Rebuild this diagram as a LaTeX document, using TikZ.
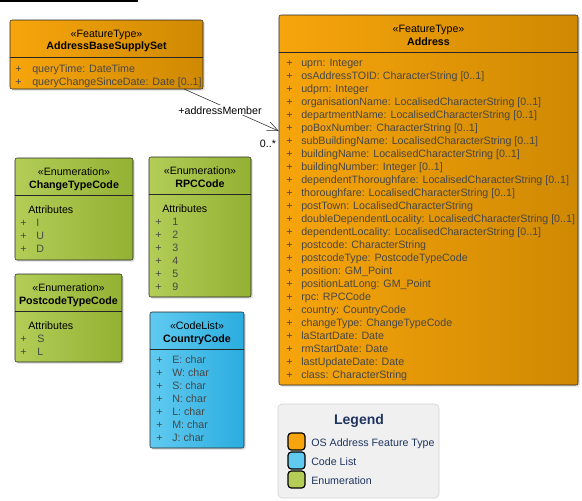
\documentclass[tikz,border=0pt]{standalone}
\usepackage{fontspec}
\setmainfont{Liberation Sans}
\usetikzlibrary{fit,shadows,arrows.meta}
\definecolor{ftorange}{HTML}{F7A50C}
\definecolor{ftorangedk}{HTML}{CF8902}
\definecolor{enumgreen}{HTML}{B3CD57}
\definecolor{enumgreendk}{HTML}{93B133}
\definecolor{clblue}{HTML}{60CAF0}
\definecolor{clbluedk}{HTML}{2AADDF}
\definecolor{attrgray}{HTML}{474747}
\definecolor{legendnavy}{HTML}{1F3560}
\definecolor{legendbg}{HTML}{F0F0F0}
\begin{document}
\begin{tikzpicture}[
      x=0.75pt, y=-0.75pt,
      font=\fontsize{8}{9.75}\selectfont,
      classbox/.style={draw=black!85, rounded corners=1.5pt, inner sep=0pt,
        drop shadow={shadow xshift=1.2pt, shadow yshift=-1.2pt, opacity=0.3}},
      feature/.style={classbox, left color=ftorange, right color=ftorangedk},
      enum/.style={classbox, left color=enumgreen, right color=enumgreendk},
      codelist/.style={classbox, left color=clblue, right color=clbluedk},
      stereo/.style={inner sep=0pt, text height=7.5pt, text depth=0.5pt},
      cname/.style={stereo, font=\fontsize{8}{9.75}\selectfont\bfseries},
      attr/.style={stereo, anchor=west, text=attrgray},
      sep/.style={draw=black!85},
      assoc/.style={draw=black!85, -{Straight Barb[length=8pt,width=7pt]}},
      legendbox/.style={draw=black!18, fill=legendbg, rounded corners=3pt, inner sep=0pt},
      swatch/.style={draw=black, line width=0.9pt, rounded corners=2.5pt,
        minimum size=12.75pt, inner sep=0pt},
      legendtxt/.style={stereo, anchor=west, text=legendnavy}
    ]
    \useasboundingbox (0,0) rectangle (582,500);
    \draw[line width=1.2pt] (0,1) -- (138,1);

    % feature types
    \node[feature, fit={(10,20) (203,89)}] (abss) {};
    \node[feature, fit={(279,15) (578,385)}] (addr) {};
    \draw[sep] (abss.west |- 0,57) -- (abss.east |- 0,57);
    \draw[sep] (addr.west |- 0,52) -- (addr.east |- 0,52);
    \path (106.5,33) node[stereo] (abss-st) {«FeatureType»}
      (106.5,45) node[cname] (abss-nm) {AddressBaseSupplySet}
      (428.5,28) node[stereo] (addr-st) {«FeatureType»}
      (428.5,41) node[cname] (addr-nm) {Address};
    \foreach \a [count=\i] in {queryTime: DateTime, queryChangeSinceDate: Date [0..1]}
      \path (15,55+13*\i) node[attr] (abss-p\i) {+}
        (32,55+13*\i) node[attr] (abss-a\i) {\a};
    \foreach \a [count=\i] in {uprn: Integer, osAddressTOID: CharacterString [0..1],
        udprn: Integer, organisationName: LocalisedCharacterString [0..1],
        departmentName: LocalisedCharacterString [0..1], poBoxNumber: CharacterString [0..1],
        subBuildingName: LocalisedCharacterString [0..1], buildingName: LocalisedCharacterString [0..1],
        buildingNumber: Integer [0..1], dependentThoroughfare: LocalisedCharacterString [0..1],
        thoroughfare: LocalisedCharacterString [0..1], postTown: LocalisedCharacterString,
        doubleDependentLocality: LocalisedCharacterString [0..1],
        dependentLocality: LocalisedCharacterString [0..1], postcode: CharacterString,
        postcodeType: PostcodeTypeCode, position: GM\_Point, positionLatLong: GM\_Point,
        rpc: RPCCode, country: CountryCode, changeType: ChangeTypeCode,
        laStartDate: Date, rmStartDate: Date, lastUpdateDate: Date, class: CharacterString}
      \path (286,49+13*\i) node[attr] (addr-p\i) {+}
        (301,49+13*\i) node[attr] (addr-a\i) {\a};

    % association
    \coordinate (abss-out) at (184,89);
    \coordinate (addr-in) at (addr.west |- 0,131);
    \draw[assoc] (abss-out) -- (addr-in);
    \path (220,110) node[stereo, fill=white, inner xsep=1pt] (role) {+addressMember}
      (268,143) node[stereo] (mult) {0..*};

    % enumerations and code list
    \node[enum, fit={(15,158) (133,260)}] (ctc) {};
    \node[enum, fit={(149,157) (251,297)}] (rpc) {};
    \node[enum, fit={(15,274) (122,362)}] (ptc) {};
    \node[codelist, fit={(150,312) (244,448)}] (cc) {};
    \draw[sep] (ctc.west |- 0,195) -- (ctc.east |- 0,195);
    \draw[sep] (rpc.west |- 0,194) -- (rpc.east |- 0,194);
    \draw[sep] (ptc.west |- 0,311) -- (ptc.east |- 0,311);
    \draw[sep] (cc.west |- 0,349) -- (cc.east |- 0,349);
    \path (74,171) node[stereo] (ctc-st) {«Enumeration»}
      (74,184) node[cname] (ctc-nm) {ChangeTypeCode}
      (200,170) node[stereo] (rpc-st) {«Enumeration»}
      (200,183) node[cname] (rpc-nm) {RPCCode}
      (68.5,287) node[stereo] (ptc-st) {«Enumeration»}
      (68.5,300) node[cname] (ptc-nm) {PostcodeTypeCode}
      (197,325) node[stereo] (cc-st) {«CodeList»}
      (197,338) node[cname] (cc-nm) {CountryCode};
    \path (28,209) node[attr, text=black] (ctc-hd) {Attributes}
      (162,208) node[attr, text=black] (rpc-hd) {Attributes}
      (28,325) node[attr, text=black] (ptc-hd) {Attributes};
    \foreach \a [count=\i] in {I, U, D}
      \path (20,209+13*\i) node[attr] (ctc-p\i) {+}
        (36,209+13*\i) node[attr] (ctc-a\i) {\a};
    \foreach \a [count=\i] in {1, 2, 3, 4, 5, 9}
      \path (155,208+13*\i) node[attr] (rpc-p\i) {+}
        (172,208+13*\i) node[attr] (rpc-a\i) {\a};
    \foreach \a [count=\i] in {S, L}
      \path (20,325+13*\i) node[attr] (ptc-p\i) {+}
        (37,325+13*\i) node[attr] (ptc-a\i) {\a};
    \foreach \a [count=\i] in {E, W, S, N, L, M, J}
      \path (156,346+13*\i) node[attr] (cc-p\i) {+}
        (172,346+13*\i) node[attr] (cc-a\i) {\a: char};

    % legend
    \node[legendbox, fit={(278,404) (439,498)}] (legend) {};
    \node[text=legendnavy, font=\fontsize{10.5}{12}\selectfont\bfseries, inner sep=0pt]
      (legend-hd) at (359,420.5) {Legend};
    \path (296.5,441.5) node[swatch, fill=ftorange] (sw-ft) {}
      (296.5,460.5) node[swatch, fill=clblue] (sw-cl) {}
      (296.5,479.5) node[swatch, fill=enumgreen] (sw-en) {};
    \path (311,442) node[legendtxt] (lg-ft) {OS Address Feature Type}
      (311,461) node[legendtxt] (lg-cl) {Code List}
      (311,480) node[legendtxt] (lg-en) {Enumeration};
  \end{tikzpicture}
\end{document}
